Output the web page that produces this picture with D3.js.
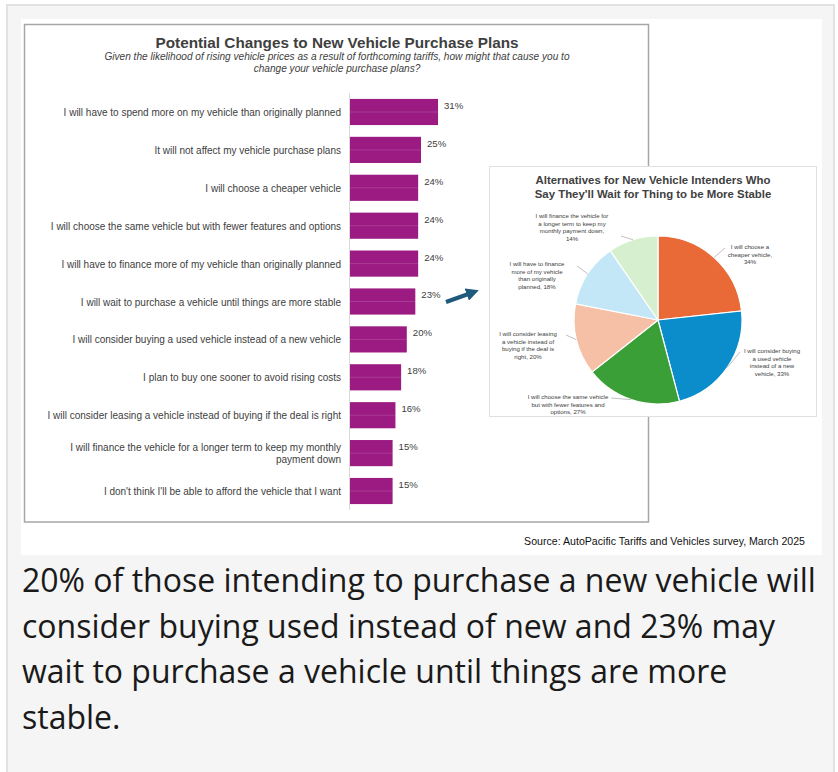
<!DOCTYPE html>
<html>
<head>
<meta charset="utf-8">
<script src="https://cdn.jsdelivr.net/npm/d3@7/dist/d3.min.js"></script>
<style>
  html, body { margin: 0; padding: 0; background: #ffffff; }
  svg { display: block; }
</style>
</head>
<body>
<svg id="chart" width="838" height="772"></svg>
<script>
// Survey responses: potential changes to new vehicle purchase plans (%)
const categories = [
  "I will have to spend more on my vehicle than originally planned",
  "It will not affect my vehicle purchase plans",
  "I will choose a cheaper vehicle",
  "I will choose the same vehicle but with fewer features and options",
  "I will have to finance more of my vehicle than originally planned",
  "I will wait to purchase a vehicle until things are more stable",
  "I will consider buying a used vehicle instead of a new vehicle",
  "I plan to buy one sooner to avoid rising costs",
  "I will consider leasing a vehicle instead of buying if the deal is right",
  "I will finance the vehicle for a longer term to keep my monthly|payment down",
  "I don't think I'll be able to afford the vehicle that I want"
];
const values = [31, 25, 24, 24, 24, 23, 20, 18, 16, 15, 15];

// Alternatives among those who will wait (%)
const pieCategories = [
  "I will choose a|cheaper vehicle,|34%",
  "I will consider buying|a used vehicle|instead of a new|vehicle, 33%",
  "I will choose the same vehicle|but with fewer features and|options, 27%",
  "I will consider leasing|a vehicle instead of|buying if the deal is|right, 20%",
  "I will have to finance|more of my vehicle|than originally|planned, 18%",
  "I will finance the vehicle for|a longer term to keep my|monthly payment down,|14%"
];
const pieValues = [34, 33, 27, 20, 18, 14];
const pieColors = ["#e96a37", "#0a8dca", "#3a9f36", "#f5c0a6", "#c3e7f6", "#d6f0cf"];

const captionLines = [
  "20% of those intending to purchase a new vehicle will",
  "consider buying used instead of new and 23% may",
  "wait to purchase a vehicle until things are more",
  "stable."
];

const svg = d3.select("#chart");
const ARIAL = "'Liberation Sans', Arial, sans-serif";
const TEXT = "#404040";

// Page panel
svg.append("rect").attr("x", 7).attr("y", 5).attr("width", 827).attr("height", 800)
  .attr("fill", "#f5f5f5").attr("stroke", "#e2e2e2").attr("stroke-width", 2);
svg.append("rect").attr("x", 21).attr("y", 19).attr("width", 801).attr("height", 536)
  .attr("fill", "#ffffff");

// Bar chart frame
svg.append("rect").attr("x", 24.5).attr("y", 24.5).attr("width", 624).attr("height", 497.5)
  .attr("fill", "#ffffff").attr("stroke", "#a6a6a6").attr("stroke-width", 1.5);

// Titles
svg.append("text").attr("x", 337).attr("y", 48).attr("text-anchor", "middle")
  .attr("font-family", ARIAL).attr("font-weight", "bold").attr("font-size", 15.3)
  .attr("fill", TEXT).text("Potential Changes to New Vehicle Purchase Plans");
const sub = svg.append("text").attr("text-anchor", "middle")
  .attr("font-family", ARIAL).attr("font-style", "italic").attr("font-size", 10.1).attr("fill", TEXT);
sub.append("tspan").attr("x", 337).attr("y", 59.5)
  .text("Given the likelihood of rising vehicle prices as a result of forthcoming tariffs, how might that cause you to");
sub.append("tspan").attr("x", 337).attr("y", 71.5).text("change your vehicle purchase plans?");

// Bar scales
const x = d3.scaleLinear().domain([0, 35]).range([350, 449.4]);
const y = d3.scaleBand().domain(categories).range([93, 510]).paddingInner(0.31).paddingOuter(0.156);

// Vertical axis line
svg.append("line").attr("x1", 349.5).attr("x2", 349.5).attr("y1", 93).attr("y2", 510)
  .attr("stroke", "#d9d9d9").attr("stroke-width", 1);

const bars = svg.append("g");
bars.selectAll("rect").data(values).join("rect")
  .attr("x", x(0))
  .attr("y", (d, i) => y(categories[i]))
  .attr("width", d => x(d) - x(0))
  .attr("height", y.bandwidth())
  .attr("fill", "#9b1b82");
// faint midline through each bar
bars.selectAll("line").data(values).join("line")
  .attr("x1", x(0)).attr("x2", d => x(d))
  .attr("y1", (d, i) => y(categories[i]) + y.bandwidth() / 2)
  .attr("y2", (d, i) => y(categories[i]) + y.bandwidth() / 2)
  .attr("stroke", "rgba(255,255,255,0.14)").attr("stroke-width", 1);

// Value labels
svg.append("g").selectAll("text").data(values).join("text")
  .attr("x", d => x(d) + 6)
  .attr("y", (d, i) => y(categories[i]) + 10)
  .attr("font-family", ARIAL).attr("font-size", 9.6).attr("fill", TEXT)
  .text(d => d + "%");

// Category labels
const catG = svg.append("g");
categories.forEach(c => {
  const lines = c.split("|");
  const cy = y(c) + y.bandwidth() / 2;
  const lh = 11.5;
  const t = catG.append("text").attr("text-anchor", "end")
    .attr("font-family", ARIAL).attr("font-size", 10).attr("fill", TEXT)
    .attr("dominant-baseline", "central");
  lines.forEach((l, k) => {
    t.append("tspan").attr("x", 341).attr("y", cy - (lines.length - 1) * lh / 2 + k * lh).text(l);
  });
});

// Pie panel
svg.append("rect").attr("x", 489.5).attr("y", 166.5).attr("width", 327).attr("height", 250)
  .attr("fill", "#ffffff").attr("stroke", "#e0e0e0").attr("stroke-width", 1);

const pt = svg.append("text").attr("text-anchor", "middle")
  .attr("font-family", ARIAL).attr("font-weight", "bold").attr("font-size", 11.4).attr("fill", TEXT);
pt.append("tspan").attr("x", 653).attr("y", 184).text("Alternatives for New Vehicle Intenders Who");
pt.append("tspan").attr("x", 653).attr("y", 197.5).text("Say They'll Wait for Thing to be More Stable");

const cx = 658, cy = 320, r = 84;
const pie = d3.pie().sort(null).value(d => d);
const arcs = pie(pieValues);
const arc = d3.arc().innerRadius(0).outerRadius(r);
const pg = svg.append("g").attr("transform", `translate(${cx},${cy})`);
pg.selectAll("path").data(arcs).join("path")
  .attr("d", arc)
  .attr("fill", (d, i) => pieColors[i])
  .attr("stroke", "#ffffff").attr("stroke-width", 1.2);

// Label layout: text centre, first line y, leader end point
const labelLayout = [
  { tx: 750, ty: 246, lx: 725, ly: 248 },
  { tx: 772, ty: 350, lx: 740, ly: 352 },
  { tx: 568, ty: 396, lx: 611, ly: 398 },
  { tx: 528, ty: 333, lx: 566, ly: 335 },
  { tx: 537, ty: 263, lx: 577, ly: 266 },
  { tx: 572, ty: 215, lx: 621, ly: 236 }
];
arcs.forEach((a, i) => {
  const mid = (a.startAngle + a.endAngle) / 2;
  const ex = cx + r * Math.sin(mid), ey = cy - r * Math.cos(mid);
  const L = labelLayout[i];
  svg.append("line").attr("x1", ex).attr("y1", ey).attr("x2", L.lx).attr("y2", L.ly)
    .attr("stroke", "#a6a6a6").attr("stroke-width", 0.7);
  const lines = pieCategories[i].split("|");
  const t = svg.append("text").attr("text-anchor", "middle")
    .attr("font-family", ARIAL).attr("font-size", 6.1).attr("fill", TEXT)
    .attr("dominant-baseline", "central");
  lines.forEach((l, k) => {
    t.append("tspan").attr("x", L.tx).attr("y", L.ty + k * 7.7).text(l);
  });
});

// Arrow pointing to the pie
svg.append("defs").append("marker").attr("id", "ah")
  .attr("viewBox", "0 0 10 10").attr("refX", 6).attr("refY", 5)
  .attr("markerWidth", 3.2).attr("markerHeight", 3.2).attr("orient", "auto")
  .append("path").attr("d", "M0,0 L10,5 L0,10 Z").attr("fill", "#1d5a7c");
svg.append("line").attr("x1", 446).attr("y1", 302).attr("x2", 474).attr("y2", 292)
  .attr("stroke", "#1d5a7c").attr("stroke-width", 4).attr("marker-end", "url(#ah)");

// Source
svg.append("text").attr("x", 805).attr("y", 545).attr("text-anchor", "end")
  .attr("font-family", ARIAL).attr("font-size", 10.6).attr("fill", "#111")
  .text("Source: AutoPacific Tariffs and Vehicles survey, March 2025");

// Caption, one text element per line
const capG = svg.append("g").attr("font-family", "'Open Sans', 'Noto Sans', sans-serif")
  .attr("font-size", 32).attr("fill", "#1a1a1a");
captionLines.forEach((l, k) => {
  capG.append("text").attr("x", 22).attr("y", 592 + k * 45.5).text(l);
});
</script>
</body>
</html>
